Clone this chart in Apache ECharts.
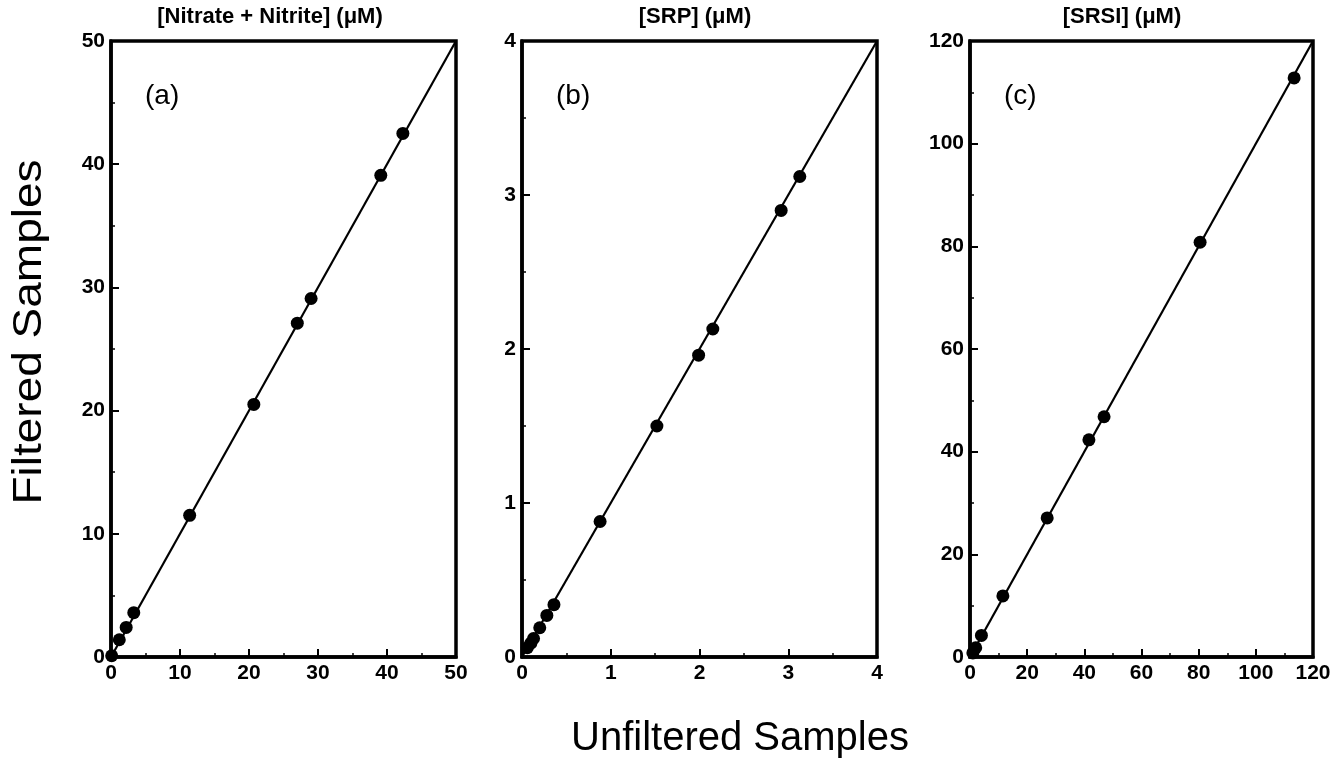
<!DOCTYPE html>
<html><head><meta charset="utf-8">
<script src="https://cdn.jsdelivr.net/npm/echarts@6/dist/echarts.min.js"></script>
<style>html,body{margin:0;padding:0;background:#fff}#c{width:1338px;height:765px}</style>
</head><body><div id="c"></div>
<script>
// Panel titles and labels
const panelTitles = ['[Nitrate + Nitrite] (\u03bcM)', '[SRP] (\u03bcM)', '[SRSI] (\u03bcM)'];
const panelLetters = ['(a)', '(b)', '(c)'];
const axisMax = [50, 4, 120];
const axisInterval = [10, 1, 20];
// Panel (a) nitrate + nitrite: [unfiltered, filtered]
const nitrateData = [[0.1,0.1],[1.2,1.4],[2.2,2.4],[3.3,3.6],[11.4,11.5],[20.7,20.5],[27.0,27.1],[29.0,29.1],[39.1,39.1],[42.3,42.5]];
// Panel (b) SRP
const srpData = [[0.06,0.06],[0.1,0.09],[0.13,0.12],[0.2,0.19],[0.28,0.27],[0.36,0.34],[0.88,0.88],[1.52,1.5],[1.99,1.96],[2.15,2.13],[2.92,2.9],[3.13,3.12]];
// Panel (c) SRSI
const srsiData = [[1,0.8],[2,1.8],[4,4.2],[11.5,11.9],[27,27.1],[41.6,42.3],[46.9,46.8],[80.5,80.8],[113.4,112.8]];
// 1:1 line ends per panel
const lineA = [[0,0],[50,50]];
const lineB = [[0,0],[4,4]];
const lineC = [[0,0],[120,120]];

const datas = [nitrateData, srpData, srsiData];
const lines = [lineA, lineB, lineC];
const gridBoxes = [{left:111,width:345},{left:522,width:355},{left:970,width:343}];
const titleCenters = [270, 695, 1122];
const FONT = '"Liberation Sans", Arial, sans-serif';

const grids = [], xAxes = [], yAxes = [], series = [], graphics = [];
for (let i = 0; i < 3; i++) {
  grids.push({left: gridBoxes[i].left, width: gridBoxes[i].width, top: 41, bottom: 108,
    show: true, borderColor: '#000', borderWidth: 3.5, backgroundColor: 'transparent'});
  const ax = {
    gridIndex: i, type: 'value', min: 0, max: axisMax[i], interval: axisInterval[i],
    axisLine: {show: true, onZero: false, lineStyle: {color: '#000', width: 3.5}},
    axisTick: {show: true, inside: true, length: 8, lineStyle: {color: '#000', width: 2}},
    minorTick: {show: true, splitNumber: 2, length: 4, lineStyle: {color: '#000', width: 1.5}},
    splitLine: {show: false},
    axisLabel: {color: '#000', fontFamily: FONT, fontWeight: 'bold', fontSize: 21, margin: 6}
  };
  xAxes.push(Object.assign({}, ax));
  yAxes.push(Object.assign({}, ax));
  series.push({type: 'line', xAxisIndex: i, yAxisIndex: i, data: lines[i], showSymbol: false,
    lineStyle: {color: '#000', width: 2.2}, silent: true, z: 2});
  series.push({type: 'scatter', xAxisIndex: i, yAxisIndex: i, data: datas[i], symbolSize: 13,
    itemStyle: {color: '#000', opacity: 1}, z: 3});
  graphics.push({type: 'text', x: titleCenters[i], y: 17,
    style: {text: panelTitles[i], font: 'bold 22px ' + FONT, fill: '#000', align: 'center', verticalAlign: 'middle'}});
  graphics.push({type: 'text', x: gridBoxes[i].left + 34, y: 96,
    style: {text: panelLetters[i], font: '28px ' + FONT, fill: '#000', align: 'left', verticalAlign: 'middle'}});
}
graphics.push({type: 'text', x: 740, y: 739,
  style: {text: 'Unfiltered Samples', font: '40px ' + FONT, fill: '#000', align: 'center', verticalAlign: 'middle'}});
graphics.push({type: 'text', x: 30, y: 332, rotation: Math.PI/2, scaleX: 1.15,
  style: {text: 'Filtered Samples', font: '40px ' + FONT, fill: '#000', align: 'center', verticalAlign: 'middle'}});

const chart = echarts.init(document.getElementById('c'));
chart.setOption({animation: false, grid: grids, xAxis: xAxes, yAxis: yAxes, series: series, graphic: graphics});
</script></body></html>
